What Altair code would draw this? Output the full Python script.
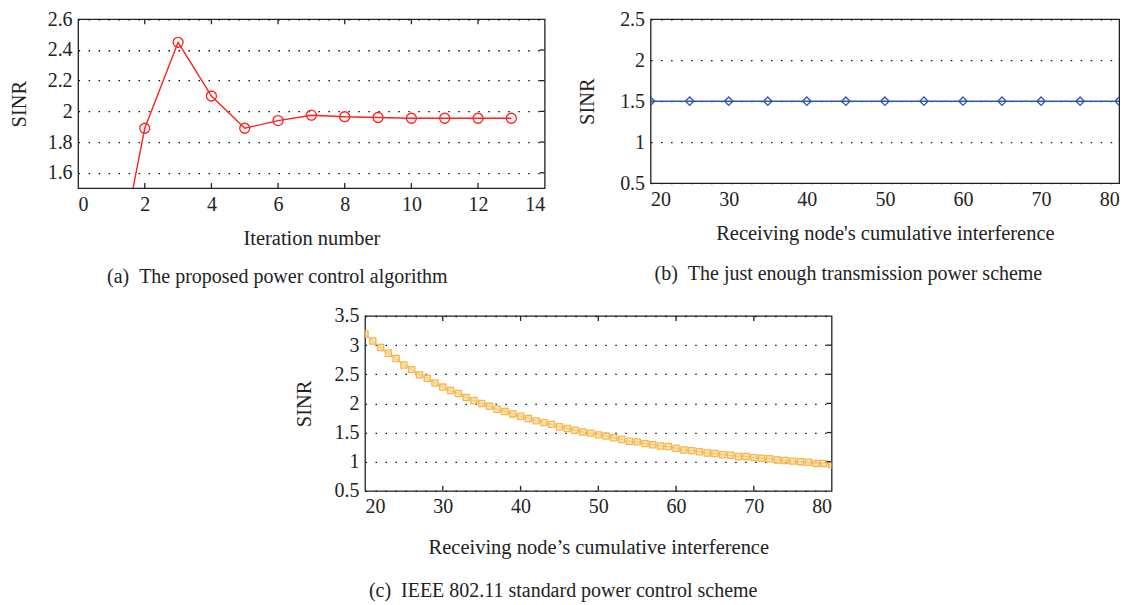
import altair as alt
import pandas as pd

FONT = "Liberation Serif"
TXT = "#222222"

# ---------- data ----------
# (a) proposed power control algorithm
iter_x = [1, 2, 3, 4, 5, 6, 7, 8, 9, 10, 11, 12, 13]
iter_sinr = [0.78, 1.89, 2.45, 2.10, 1.89, 1.94, 1.975, 1.965, 1.96, 1.955, 1.955, 1.955, 1.955]
a_xticks = [0, 2, 4, 6, 8, 10, 12, 14]
a_yticks = [1.6, 1.8, 2.0, 2.2, 2.4, 2.6]

# (b) just enough transmission power scheme
jet_x = [20, 25, 30, 35, 40, 45, 50, 55, 60, 65, 70, 75, 80]
jet_sinr = [1.5, 1.5, 1.5, 1.5, 1.5, 1.5, 1.5, 1.5, 1.5, 1.5, 1.5, 1.5, 1.5]
b_xticks = [20, 30, 40, 50, 60, 70, 80]
b_yticks = [0.5, 1.0, 1.5, 2.0, 2.5]

# (c) IEEE 802.11 standard power control scheme
ieee_x = list(range(20, 81))
ieee_sinr = [3.19, 3.07, 2.96, 2.86, 2.77, 2.66, 2.58, 2.49, 2.43, 2.35,
             2.28, 2.22, 2.17, 2.10, 2.05, 2.00, 1.95, 1.90, 1.86, 1.82,
             1.78, 1.74, 1.70, 1.67, 1.64, 1.60, 1.57, 1.54, 1.51, 1.49,
             1.46, 1.44, 1.41, 1.38, 1.35, 1.34, 1.31, 1.29, 1.27, 1.26,
             1.23, 1.20, 1.19, 1.17, 1.15, 1.14, 1.12, 1.11, 1.09, 1.09,
             1.07, 1.06, 1.05, 1.03, 1.02, 1.01, 1.00, 0.99, 0.97, 0.97,
             0.95]
c_xticks = [20, 30, 40, 50, 60, 70, 80]
c_yticks = [0.5, 1.0, 1.5, 2.0, 2.5, 3.0, 3.5]


def panel(xs, ys, color, shape, size, filled, xdom, ydom, xticks, yticks,
          xtitle, caption, W, H, inner_x, inner_y,
          xtitle_pad=14, caption_off=20, ytitle_pad=20, stroke=None, fill=None):
    df = pd.DataFrame({"x": xs, "y": ys})
    xenc = alt.X("x:Q", scale=alt.Scale(domain=xdom, nice=False, zero=False),
                 axis=alt.Axis(values=xticks, title=xtitle, grid=False, format="~r",
                               titlePadding=xtitle_pad))
    yenc = alt.Y("y:Q", scale=alt.Scale(domain=ydom, nice=False, zero=False),
                 axis=alt.Axis(values=yticks, title="SINR", grid=True, format="~r",
                               titlePadding=ytitle_pad))
    line = alt.Chart(df).mark_line(color=color, strokeWidth=1.4, clip=True).encode(x=xenc, y=yenc)
    pts = alt.Chart(df).mark_point(shape=shape, size=size, filled=False,
                                   stroke=stroke or color, fill=fill or color, strokeWidth=1.3, clip=True,
                                   opacity=1, fillOpacity=0.6 if filled else 0).encode(x=xenc, y=yenc)
    layers = [line, pts]
    if inner_x:
        tx = pd.DataFrame({"x": inner_x})
        layers.append(alt.Chart(tx).mark_rule(color=TXT, strokeWidth=1.3).encode(
            x=xenc, y=alt.value(0), y2=alt.value(5)))
        layers.append(alt.Chart(tx).mark_rule(color=TXT, strokeWidth=1.3).encode(
            x=xenc, y=alt.value(H - 5), y2=alt.value(H)))
    if inner_y:
        ty = pd.DataFrame({"y": inner_y})
        layers.append(alt.Chart(ty).mark_rule(color=TXT, strokeWidth=1.3).encode(
            y=yenc, x=alt.value(W - 5), x2=alt.value(W)))
    return alt.layer(*layers).properties(
        width=W, height=H,
        title=alt.TitleParams(text=caption, orient="bottom", anchor="middle", frame="bounds",
                              font=FONT, fontSize=20, fontWeight="normal", color=TXT,
                              offset=caption_off),
    )


a = panel(iter_x, iter_sinr, "#ff2020", "circle", 100, False, [0, 14], [1.5, 2.6],
          a_xticks, a_yticks, "Iteration number",
          "(a)\u2002The proposed power control algorithm", 467, 169,
          [2, 4, 6, 8, 10, 12], [1.6, 1.8, 2.0, 2.2, 2.4],
          xtitle_pad=14, caption_off=18, ytitle_pad=18)
b = panel(jet_x, jet_sinr, "#3355aa", "diamond", 70, False, [20, 80], [0.5, 2.5],
          b_xticks, b_yticks, "Receiving node's cumulative interference",
          "(b)\u2002The just enough transmission power scheme", 469, 164, [], [],
          xtitle_pad=14, caption_off=20, ytitle_pad=22)
c = panel(ieee_x, ieee_sinr, "#f7c466", "square", 38, True, [20, 80], [0.5, 3.5],
          c_xticks, c_yticks, "Receiving node\u2019s cumulative interference",
          "(c)\u2002IEEE 802.11 standard power control scheme", 467, 175,
          [30, 40, 50, 60, 70], [1.0, 1.5, 2.0, 2.5, 3.0],
          xtitle_pad=21, caption_off=23, ytitle_pad=20, stroke="#f4b84e", fill="#f9d48a")

row1 = alt.concat(a, b, columns=2, spacing=30, align="none")
chart = alt.vconcat(row1, c, spacing=17, center=True).properties(
    padding={"left": 0, "top": 0, "right": 0, "bottom": 0}
).configure_view(
    stroke=TXT, strokeWidth=1.3
).configure_axis(
    labelFont=FONT, labelFontSize=20, labelColor=TXT, labelPadding=6,
    titleFont=FONT, titleFontSize=20.5, titleFontWeight="normal", titleColor=TXT,
    ticks=False, domain=False,
    gridColor="#111111", gridDash=[1.5, 8.5], gridWidth=1.3, gridOpacity=1,
)

chart.save("out.html", embed_options={"renderer": "svg", "actions": False})
